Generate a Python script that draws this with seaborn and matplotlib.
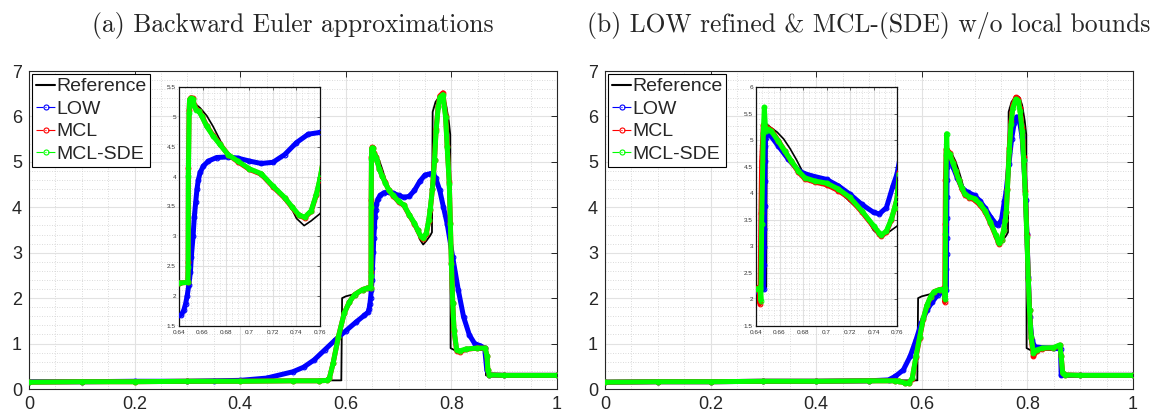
import numpy as np
import pandas as pd
import matplotlib
matplotlib.use("Agg")
import matplotlib.pyplot as plt
import seaborn as sns
from matplotlib.ticker import MultipleLocator, FuncFormatter
from matplotlib.lines import Line2D

sns.set_style("white")
plt.rcParams['font.family'] = ['Liberation Sans', 'DejaVu Sans']

# ---------------- data ----------------
REF_X = [0.0, 0.1, 0.2, 0.3, 0.4, 0.5, 0.55, 0.5915, 0.593, 0.60, 0.62, 0.64, 0.6488, 0.6492, 0.6525, 0.658,
         0.6636, 0.669, 0.6747, 0.680, 0.6858, 0.69, 0.70, 0.71, 0.72, 0.73, 0.736, 0.740, 0.7465, 0.7525, 0.760,
         0.7632, 0.7645, 0.770, 0.775, 0.780, 0.785, 0.790, 0.795, 0.7978, 0.7985, 0.805, 0.84, 0.8645, 0.8655,
         0.90, 1.0]
REF_Y = [0.15, 0.16, 0.16, 0.17, 0.17, 0.18, 0.19, 0.19, 2.00, 2.04, 2.10, 2.18, 2.23, 5.30, 5.24, 5.15,
         5.02, 4.84, 4.62, 4.39, 4.31, 4.26, 4.13, 4.05, 3.84, 3.63, 3.46, 3.30, 3.18, 3.26, 3.38,
         3.45, 6.10, 6.32, 6.40, 6.45, 6.42, 6.25, 5.90, 5.60, 0.90, 0.86, 0.86, 0.86, 0.30,
         0.30, 0.30]

LOW_A_X = [0.0, 0.1, 0.2, 0.3, 0.35, 0.4, 0.45, 0.5, 0.52, 0.54, 0.56, 0.58, 0.60, 0.62, 0.635, 0.642, 0.644,
           0.6456, 0.647, 0.6483, 0.6497, 0.6505, 0.652, 0.653, 0.6542, 0.6553, 0.6564, 0.658, 0.6608, 0.665,
           0.672, 0.6817, 0.69, 0.70, 0.71, 0.72, 0.73, 0.74, 0.75, 0.76, 0.765, 0.770, 0.778, 0.785, 0.792,
           0.8025, 0.813, 0.823, 0.834, 0.844, 0.855, 0.863, 0.867, 0.872, 0.90, 1.0]
LOW_A_Y = [0.16, 0.16, 0.17, 0.17, 0.18, 0.19, 0.24, 0.38, 0.48, 0.64, 0.86, 1.08, 1.28, 1.48, 1.62, 1.69, 1.76,
           1.87, 2.01, 2.18, 2.40, 2.66, 3.01, 3.32, 3.57, 3.79, 3.94, 4.07, 4.18, 4.26,
           4.32, 4.33, 4.31, 4.26, 4.22, 4.24, 4.37, 4.57, 4.71, 4.74, 4.75, 4.65, 4.37, 4.00, 3.64,
           2.90, 2.18, 1.59, 1.19, 1.00, 0.95, 0.90, 0.42, 0.31, 0.30, 0.30]

MCL_A_X = [0.0, 0.1, 0.2, 0.3, 0.4, 0.5, 0.55, 0.565, 0.569, 0.576, 0.586, 0.597, 0.607, 0.617, 0.632, 0.640,
           0.6475, 0.6478, 0.648, 0.6486, 0.649, 0.650, 0.652, 0.653, 0.6547, 0.657, 0.6594, 0.6636, 0.669,
           0.6747, 0.6817, 0.69, 0.70, 0.71, 0.72, 0.73, 0.736, 0.742, 0.747, 0.7525, 0.757, 0.760, 0.764,
           0.768, 0.771, 0.775, 0.778, 0.784, 0.789, 0.792, 0.796, 0.798, 0.800, 0.8025, 0.805, 0.810, 0.8165,
           0.827, 0.848, 0.864, 0.8675, 0.869, 0.872, 0.90, 1.0]
MCL_A_Y = [0.15, 0.16, 0.16, 0.17, 0.17, 0.18, 0.18, 0.19, 0.24, 0.57, 1.15, 1.67, 1.92, 2.08, 2.19, 2.22,
           2.23, 2.57, 4.15, 5.11, 5.29, 5.32, 5.31, 5.20, 5.13, 5.10, 5.02, 4.85, 4.69,
           4.55, 4.37, 4.25, 4.12, 4.04, 3.83, 3.64, 3.49, 3.35, 3.31, 3.42, 3.70, 3.95, 4.40,
           5.05, 5.72, 6.23, 6.45, 6.52, 6.02, 5.36, 4.55, 3.66, 2.78, 1.90, 1.28, 0.84, 0.82,
           0.87, 0.90, 0.90, 0.72, 0.42, 0.31, 0.30, 0.30]

SDE_A_X = list(MCL_A_X)
SDE_A_Y = [0.15, 0.16, 0.16, 0.17, 0.17, 0.18, 0.18, 0.19, 0.24, 0.57, 1.15, 1.67, 1.92, 2.08, 2.19, 2.22,
           2.23, 2.48, 4.01, 5.07, 5.29, 5.31, 5.30, 5.18, 5.12, 5.09, 5.01, 4.84, 4.68,
           4.54, 4.37, 4.26, 4.13, 4.05, 3.84, 3.65, 3.50, 3.36, 3.32, 3.43, 3.71, 3.97, 4.40,
           5.03, 5.69, 6.20, 6.42, 6.48, 5.98, 5.32, 4.52, 3.64, 2.76, 1.89, 1.30, 0.86, 0.84,
           0.88, 0.90, 0.90, 0.72, 0.42, 0.31, 0.30, 0.30]

LOW_B_X = [0.0, 0.1, 0.2, 0.3, 0.4, 0.5, 0.537, 0.55, 0.565, 0.578, 0.589, 0.599, 0.61, 0.62, 0.63, 0.641,
           0.6465, 0.6467, 0.6469, 0.6471, 0.6473, 0.6475, 0.6477, 0.6479, 0.6481, 0.6485, 0.6505, 0.659,
           0.6675, 0.676, 0.68, 0.687, 0.70, 0.71, 0.72, 0.73, 0.74, 0.745, 0.751, 0.7566, 0.760, 0.765,
           0.770, 0.775, 0.7795, 0.785, 0.790, 0.793, 0.797, 0.799, 0.8017, 0.8044, 0.8086, 0.814, 0.828,
           0.85, 0.8627, 0.864, 0.90, 1.0]
LOW_B_Y = [0.15, 0.16, 0.16, 0.17, 0.17, 0.18, 0.20, 0.28, 0.42, 0.72, 1.08, 1.45, 1.74, 1.92, 2.07, 2.15,
           2.19, 2.64, 2.98, 3.33, 3.76, 4.23, 4.61, 4.89, 5.04, 5.17, 5.14, 4.89,
           4.64, 4.43, 4.38, 4.33, 4.26, 4.14, 3.98, 3.79, 3.64, 3.61, 3.73, 4.14, 4.36, 4.95,
           5.50, 5.85, 5.99, 5.90, 5.54, 5.03, 4.15, 3.42, 2.47, 1.59, 1.08, 0.93, 0.91,
           0.90, 0.88, 0.30, 0.30, 0.30]

MCL_B_X = [0.0, 0.1, 0.2, 0.3, 0.4, 0.5, 0.55, 0.5575, 0.568, 0.575, 0.582, 0.589, 0.596, 0.603, 0.61, 0.6165,
           0.623, 0.634, 0.640, 0.6425, 0.6434, 0.6442, 0.6448, 0.6462, 0.6471, 0.6482, 0.6505, 0.653, 0.659,
           0.6646, 0.670, 0.676, 0.6816, 0.69, 0.70, 0.71, 0.72, 0.73, 0.74, 0.745, 0.7467, 0.751, 0.7552,
           0.758, 0.760, 0.762, 0.7656, 0.769, 0.7725, 0.778, 0.783, 0.786, 0.790, 0.793, 0.796, 0.799,
           0.8017, 0.804, 0.807, 0.8114, 0.8176, 0.828, 0.849, 0.8613, 0.864, 0.8668, 0.871, 0.90, 1.0]
MCL_B_Y = [0.15, 0.16, 0.16, 0.17, 0.17, 0.18, 0.18, 0.17, 0.13, 0.13, 0.23, 0.70, 1.13, 1.55, 1.84, 2.02,
           2.14, 2.19, 2.20, 2.23, 1.92, 3.63, 4.60, 5.28, 5.27, 5.24, 5.22, 5.19, 4.99,
           4.79, 4.60, 4.40, 4.27, 4.21, 4.16, 4.05, 3.90, 3.65, 3.37, 3.23, 3.19, 3.27, 3.50,
           3.72, 3.90, 4.40, 5.30, 5.90, 6.25, 6.42, 6.38, 6.18, 5.74, 5.10, 4.36, 3.40,
           2.43, 1.74, 1.12, 0.72, 0.84, 0.89, 0.90, 0.96, 0.72, 0.35, 0.31, 0.30, 0.30]

SDE_B_X = list(MCL_B_X)
SDE_B_Y = [0.15, 0.16, 0.16, 0.17, 0.17, 0.18, 0.18, 0.17, 0.13, 0.13, 0.24, 0.72, 1.15, 1.56, 1.85, 2.03,
           2.14, 2.19, 2.19, 2.21, 2.22, 1.98, 3.42, 5.14, 5.62, 5.17, 5.20, 5.17, 4.98,
           4.79, 4.61, 4.42, 4.29, 4.23, 4.19, 4.08, 3.92, 3.67, 3.39, 3.25, 3.21, 3.29, 3.51,
           3.73, 3.90, 4.37, 5.24, 5.83, 6.19, 6.38, 6.34, 6.12, 5.68, 5.03, 4.30, 3.35,
           2.40, 1.74, 1.15, 0.79, 0.86, 0.90, 0.91, 0.97, 0.72, 0.35, 0.31, 0.30, 0.30]

TITLES = ["(a) Backward Euler approximations", "(b) LOW refined & MCL-(SDE) w/o local bounds"]
LABELS = ["Reference", "LOW", "MCL", "MCL-SDE"]
COLORS = ["#000000", "#0000ff", "#ff0000", "#00ff00"]
MAIN_XTICKS = [0, 0.2, 0.4, 0.6, 0.8, 1.0]
MAIN_YTICKS = [0, 1, 2, 3, 4, 5, 6, 7]
INSET_XTICKS = [0.64, 0.66, 0.68, 0.70, 0.72, 0.74, 0.76]
INSET_YLIMS = [(1.5, 5.5), (1.5, 6.0)]

PANELS = [
    [(LOW_A_X, LOW_A_Y), (MCL_A_X, MCL_A_Y), (SDE_A_X, SDE_A_Y)],
    [(LOW_B_X, LOW_B_Y), (MCL_B_X, MCL_B_Y), (SDE_B_X, SDE_B_Y)],
]

# ---------------- figure ----------------
W, H = 1156, 417
fig = plt.figure(figsize=(W / 100, H / 100), dpi=100)
AX_COL = "#262626"
fmt = FuncFormatter(lambda v, p: "%g" % round(v, 6))


def style_grid(ax, major_col="#e2e2e2", minor_col="#cfcfcf"):
    ax.set_axisbelow(True)
    ax.grid(True, which="major", color=major_col, lw=0.8, ls="-")
    ax.grid(True, which="minor", color=minor_col, lw=0.6, ls=(0, (1, 2)))
    for s in ax.spines.values():
        s.set_visible(True)


def draw(ax, x, y, color, band, ms, z):
    df = pd.DataFrame({"x": x, "y": y})
    sns.lineplot(data=df, x="x", y="y", ax=ax, color=color, lw=band, sort=False, estimator=None,
                 legend=False, zorder=z, solid_capstyle="round", solid_joinstyle="round")
    sns.lineplot(data=df, x="x", y="y", ax=ax, color=color, lw=0.8, linestyle="-.", marker="o", ms=ms,
                 mfc="none", mec=color, mew=0.8, sort=False, estimator=None, legend=False, zorder=z + 0.1)


for i, (left, ileft) in enumerate([(29, 179), (605, 756)]):
    ax = fig.add_axes([left / W, 1 - 389 / H, 528 / W, 318 / H])
    style_grid(ax)
    sns.lineplot(x=REF_X, y=REF_Y, ax=ax, color=COLORS[0], lw=1.3, sort=False, estimator=None,
                 legend=False, zorder=2)
    for k, (xs, ys) in enumerate(PANELS[i]):
        draw(ax, xs, ys, COLORS[k + 1], 3.6, 3.4, 3 + k)
    ax.set_xlim(0, 1)
    ax.set_ylim(0, 7)
    ax.set_xticks(MAIN_XTICKS)
    ax.set_yticks(MAIN_YTICKS)
    ax.xaxis.set_minor_locator(MultipleLocator(0.05))
    ax.yaxis.set_minor_locator(MultipleLocator(0.2))
    ax.xaxis.set_major_formatter(fmt)
    ax.set_xlabel("")
    ax.set_ylabel("")
    ax.tick_params(which="major", direction="in", length=4, width=0.7, colors=AX_COL, labelsize=13,
                   top=True, right=True, pad=5)
    ax.tick_params(which="minor", length=0)
    for s in ax.spines.values():
        s.set_color(AX_COL)
        s.set_linewidth(0.8)

    handles = [Line2D([], [], color=COLORS[0], lw=1.5)]
    for c in COLORS[1:]:
        handles.append(Line2D([], [], color=c, lw=0.8, ls="-.", marker="o", ms=3.6, mfc="none", mec=c, mew=0.8))
    leg = ax.legend(handles, LABELS, loc="upper left", fontsize=14, frameon=True, fancybox=False,
                    edgecolor="#000000", framealpha=1, borderpad=0.2, borderaxespad=0.15,
                    handlelength=1.0, handletextpad=0.05, labelspacing=0.25, numpoints=1)
    leg.get_frame().set_linewidth(0.8)
    leg.set_zorder(20)

    fig.text((left + 264) / W, 1 - 32 / H, TITLES[i], ha="center", va="baseline",
             fontsize=18.4, family=["cmr10", "DejaVu Serif"])

    # inset
    ia = fig.add_axes([ileft / W, 1 - 326 / H, 141 / W, 239 / H])
    ia.set_facecolor("white")
    style_grid(ia, "#e0e0e0", "#d5d5d5")
    sns.lineplot(x=REF_X, y=REF_Y, ax=ia, color=COLORS[0], lw=1.2, sort=False, estimator=None,
                 legend=False, zorder=2)
    for k, (xs, ys) in enumerate(PANELS[i]):
        draw(ia, xs, ys, COLORS[k + 1], 3.6, 3.4, 3 + k)
    ia.set_xlim(0.64, 0.76)
    ia.set_ylim(*INSET_YLIMS[i])
    ia.set_xticks(INSET_XTICKS)
    ia.yaxis.set_major_locator(MultipleLocator(0.5))
    ia.xaxis.set_minor_locator(MultipleLocator(0.005))
    ia.yaxis.set_minor_locator(MultipleLocator(0.1))
    ia.xaxis.set_major_formatter(fmt)
    ia.yaxis.set_major_formatter(fmt)
    ia.set_xlabel("")
    ia.set_ylabel("")
    ia.tick_params(which="major", direction="in", length=2, width=0.5, colors="#333333", labelsize=4.6,
                   top=True, right=True)
    ia.tick_params(axis="x", which="major", pad=2.6)
    ia.tick_params(axis="y", which="major", pad=2.2)
    ia.tick_params(which="minor", length=0)
    for s in ia.spines.values():
        s.set_color("#111111")
        s.set_linewidth(0.9)

fig.savefig("out.png", dpi=100)
